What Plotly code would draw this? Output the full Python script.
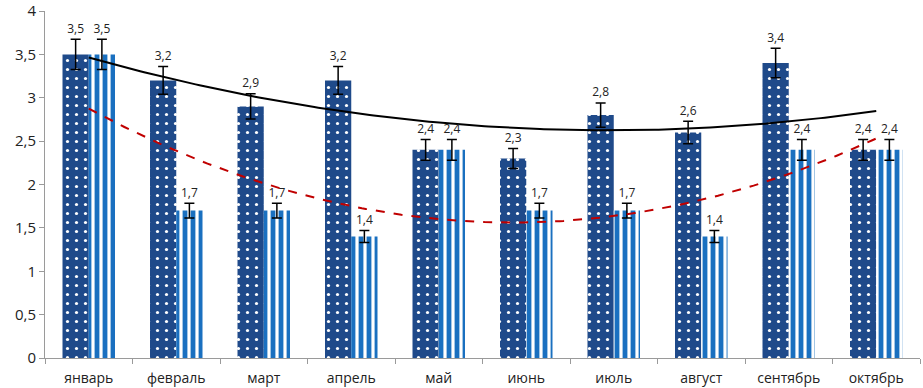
import numpy as np
import plotly.graph_objects as go

months = ["январь", "февраль", "март", "апрель", "май", "июнь", "июль", "август", "сентябрь", "октябрь"]
series1 = [3.5, 3.2, 2.9, 3.2, 2.4, 2.3, 2.8, 2.6, 3.4, 2.4]
series2 = [3.5, 1.7, 1.7, 1.4, 2.4, 1.7, 1.7, 1.4, 2.4, 2.4]
err_pct = 5

x = np.arange(len(months))
W = 0.3

def fmt(v):
    return f"{v:.1f}".replace(".", ",")

fig = go.Figure()
fig.add_trace(go.Bar(
    x=x, y=series1, width=W, offset=-W,
    marker=dict(color="#1F4A8A", line=dict(width=0),
                pattern=dict(shape=".", fgcolor="white", bgcolor="#1F4A8A", size=9,
                             solidity=0.1, fgopacity=1)),
    error_y=dict(type="percent", value=err_pct, color="black", thickness=1.5, width=5),
    showlegend=False,
))
fig.add_trace(go.Bar(
    x=x, y=series2, width=W, offset=0,
    marker=dict(color="white", line=dict(width=0),
                pattern=dict(shape="|", fgcolor="#1A70C0", bgcolor="white", size=8,
                             solidity=0.6, fgopacity=1)),
    error_y=dict(type="percent", value=err_pct, color="black", thickness=1.5, width=5),
    showlegend=False,
))

# polynomial (order 2) trendlines
xf = np.linspace(0, len(months) - 1, 200)
p1 = np.polyfit(x + 1, series1, 2)
p2 = np.polyfit(x + 1, series2, 2)
fig.add_trace(go.Scatter(x=xf, y=np.polyval(p1, xf + 1), mode="lines",
                         line=dict(color="black", width=2), showlegend=False, hoverinfo="skip"))
fig.add_trace(go.Scatter(x=xf, y=np.polyval(p2, xf + 1), mode="lines",
                         line=dict(color="#C00000", width=2, dash="dash"), showlegend=False, hoverinfo="skip"))

# data labels
lab_font = dict(size=12, color="#222222", family="Open Sans")
fig.add_trace(go.Scatter(x=x - W / 2, y=[v * (1 + err_pct / 100) + 0.04 for v in series1], mode="text",
                         text=[fmt(v) for v in series1], textposition="top center",
                         textfont=lab_font, showlegend=False))
fig.add_trace(go.Scatter(x=x + W / 2, y=[v * (1 + err_pct / 100) + 0.04 for v in series2], mode="text",
                         text=[fmt(v) for v in series2], textposition="top center",
                         textfont=lab_font, showlegend=False))

fig.update_layout(
    width=923, height=388,
    margin=dict(l=45, r=3, t=11, b=30),
    paper_bgcolor="white", plot_bgcolor="white",
    separators=", ",
    barmode="overlay",
    font=dict(family="Open Sans", color="#222222"),
)
fig.update_xaxes(
    range=[-0.5, len(months) - 0.5], automargin=False,
    tickmode="array", tickvals=list(x), ticktext=months,
    ticks="", showgrid=False, zeroline=False,
    showline=True, linecolor="#9a9a9a", linewidth=1,
    tickfont=dict(size=14, color="#222222"), ticklabelstandoff=7,
    minor=dict(ticks="outside", tick0=-0.5, dtick=1, ticklen=5, tickcolor="#9a9a9a", showgrid=False),
)
fig.update_yaxes(
    range=[0, 4], dtick=0.5, tickformat=".1~f", automargin=False,
    ticklabeloverflow="allow",
    ticks="outside", ticklen=5, tickcolor="#9a9a9a",
    showgrid=False, zeroline=False,
    showline=True, linecolor="#9a9a9a", linewidth=1,
    tickfont=dict(size=15, color="#222222"),
)

fig.write_html("out.html", config={"displayModeBar": False})
with open("out.html", "r", encoding="utf-8") as f:
    html = f.read()
html = html.replace("<head>", "<head><style>html,body{margin:0;padding:0;overflow:hidden;}</style>", 1)
with open("out.html", "w", encoding="utf-8") as f:
    f.write(html)
